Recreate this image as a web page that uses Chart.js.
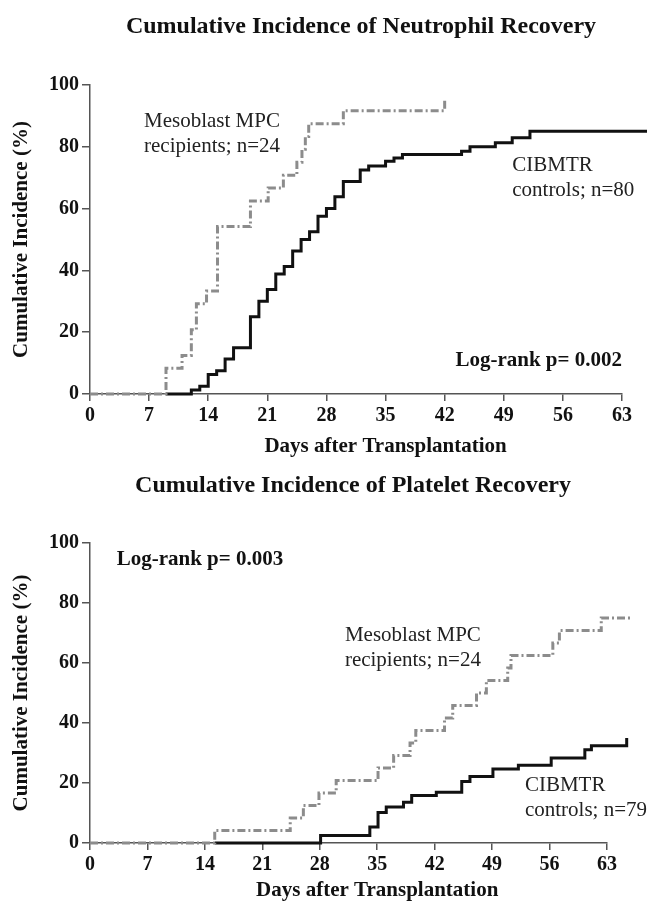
<!DOCTYPE html>
<html>
<head>
<meta charset="utf-8">
<script src="https://cdn.jsdelivr.net/npm/chart.js@4.4.1/dist/chart.umd.min.js"></script>
<style>
  html, body { margin: 0; padding: 0; background: #fff; }
  canvas { position: absolute; left: 0; }
  #neutro { top: 0; }
  #platelet { top: 460px; }
</style>
</head>
<body>
<canvas id="neutro" width="647" height="460"></canvas>
<canvas id="platelet" width="647" height="442"></canvas>
<script>
// tick labels
const dayTicks = [0, 7, 14, 21, 28, 35, 42, 49, 56, 63];
const pctTicks = [0, 20, 40, 60, 80, 100];

// neutrophil recovery (top)
const neutroMpcDays = [0, 9, 10.9, 12, 12.6, 13.8, 15.1, 19, 21.1, 22.9, 24.5, 25.1, 25.5, 25.9, 30, 42];
const neutroMpcPct  = [0, 8.3, 12.5, 20.8, 29.2, 33.3, 54.2, 62.5, 66.7, 70.8, 75, 79.2, 83.3, 87.5, 91.7, 95.8];
const neutroCtrlDays = [9, 12, 13, 14, 15, 16, 17, 19, 20, 21, 22, 23, 24, 25, 26, 27, 28, 29, 30, 32, 33, 35, 36, 37, 44, 45, 48, 50, 52.1, 66];
const neutroCtrlPct  = [0, 1.3, 2.5, 6.3, 7.5, 11.3, 15, 25, 30, 33.8, 38.8, 41.3, 46.3, 50, 52.5, 57.5, 60, 63.8, 68.8, 72.5, 73.8, 75.3, 76.4, 77.5, 78.6, 80, 81.3, 82.9, 85, 85];

// platelet recovery (bottom)
const plateMpcDays = [0, 15.2, 24.4, 26, 27.9, 30, 35.1, 37, 39, 39.7, 43.2, 44.2, 47.1, 48.3, 50.9, 51.3, 56.4, 57.2, 62.3, 66];
const plateMpcPct  = [0, 4.2, 8.3, 12.5, 16.7, 20.8, 25, 29.2, 33.3, 37.5, 41.7, 45.8, 50, 54.2, 58.3, 62.5, 66.7, 70.8, 75, 75];
const plateCtrlDays = [15.2, 28.1, 34.1, 35.1, 36.1, 38.2, 39.2, 42.2, 45.3, 46.3, 49.1, 52.2, 56.2, 60.3, 61.1, 65.4, 66];
const plateCtrlPct  = [0, 2.5, 5.3, 10.2, 12.0, 13.6, 15.8, 16.9, 20.5, 22.2, 24.7, 25.9, 28.3, 31.1, 32.4, 35.0, 35.0];

const toPoints = (days, pct) => days.map((d, i) => ({ x: d, y: pct[i] }));

Chart.defaults.font.family = '"Liberation Serif", "Times New Roman", serif';
Chart.defaults.color = '#111';

// draws figure title, x-axis title and the in-plot notes
const figText = {
  id: 'figText',
  afterDraw(chart, args, opts) {
    const { ctx, scales: { x, y }, chartArea } = chart;
    ctx.save();
    ctx.fillStyle = '#111';
    ctx.textBaseline = 'alphabetic';
    ctx.textAlign = 'center';
    ctx.font = 'bold 24px "Liberation Serif"';
    ctx.fillText(opts.title, opts.titleX, opts.titleY);
    ctx.font = 'bold 21px "Liberation Serif"';
    ctx.fillText('Days after Transplantation', x.getPixelForValue(35), chartArea.bottom + opts.xTitleGap);
    opts.notes.forEach(n => {
      ctx.font = n.font;
      ctx.textAlign = n.align || 'left';
      ctx.fillStyle = n.color || '#111';
      n.lines.forEach((line, i) => {
        ctx.fillText(line, x.getPixelForValue(n.day), y.getPixelForValue(n.pct) + i * 25);
      });
    });
    ctx.restore();
  }
};

function makeChart(id, mpc, ctrl, layoutPad, xHeight, text) {
  return new Chart(document.getElementById(id), {
    type: 'line',
    data: {
      datasets: [{
        label: 'Mesoblast MPC recipients',
        data: mpc,
        stepped: true,
        borderColor: '#8c8c8c',
        borderWidth: 3,
        borderDash: [8, 3, 2, 3],
        pointRadius: 0,
        clip: false
      }, {
        label: 'CIBMTR controls',
        data: ctrl,
        stepped: true,
        borderColor: '#111',
        borderWidth: 3,
        pointRadius: 0,
        clip: false
      }]
    },
    options: {
      responsive: false,
      animation: false,
      devicePixelRatio: 1,
      layout: { padding: layoutPad },
      plugins: {
        legend: { display: false },
        tooltip: { enabled: false },
        figText: text
      },
      scales: {
        x: {
          type: 'linear',
          min: 0,
          max: 63,
          afterBuildTicks: s => { s.ticks = dayTicks.map(v => ({ value: v })); },
          afterFit: s => { s.height = xHeight; },
          grid: { drawOnChartArea: false, color: '#555', tickLength: 7, lineWidth: 1.5 },
          border: { color: '#555', width: 1.5 },
          ticks: { font: { size: 20, weight: 'bold' }, padding: 3, maxRotation: 0 }
        },
        y: {
          min: 0,
          max: 100,
          afterBuildTicks: s => { s.ticks = pctTicks.map(v => ({ value: v })); },
          afterFit: s => { s.width = 90; },
          grid: { drawOnChartArea: false, color: '#555', tickLength: 8, lineWidth: 1.5 },
          border: { color: '#555', width: 1.5 },
          ticks: { font: { size: 20, weight: 'bold' }, padding: 3 },
          title: {
            display: true,
            text: 'Cumulative Incidence (%)',
            font: { size: 21, weight: 'bold' },
            padding: { top: 9, bottom: 0 }
          }
        }
      }
    },
    plugins: [figText]
  });
}

makeChart('neutro',
  toPoints(neutroMpcDays, neutroMpcPct),
  toPoints(neutroCtrlDays, neutroCtrlPct),
  { top: 85, right: 25, left: 0, bottom: 0 }, 66,
  {
    title: 'Cumulative Incidence of Neutrophil Recovery', titleX: 361, titleY: 33, xTitleGap: 58,
    notes: [
      { lines: ['Mesoblast MPC', 'recipients; n=24'], day: 6.4, pct: 86.5, font: '21px "Liberation Serif"', color: '#222' },
      { lines: ['CIBMTR', 'controls; n=80'], day: 50, pct: 72.3, font: '21px "Liberation Serif"', color: '#222' },
      { lines: ['Log-rank p= 0.002'], day: 63, pct: 8.9, align: 'right', font: 'bold 21px "Liberation Serif"' }
    ]
  });

makeChart('platelet',
  toPoints(plateMpcDays, plateMpcPct),
  toPoints(plateCtrlDays, plateCtrlPct),
  { top: 83, right: 40, left: 0, bottom: 0 }, 59,
  {
    title: 'Cumulative Incidence of Platelet Recovery', titleX: 353, titleY: 32, xTitleGap: 53,
    notes: [
      { lines: ['Log-rank p= 0.003'], day: 3.25, pct: 92.8, font: 'bold 21px "Liberation Serif"' },
      { lines: ['Mesoblast MPC', 'recipients; n=24'], day: 31.06, pct: 67.2, font: '21px "Liberation Serif"', color: '#222' },
      { lines: ['CIBMTR', 'controls; n=79'], day: 53, pct: 17.2, font: '21px "Liberation Serif"', color: '#222' }
    ]
  });
</script>
</body>
</html>
